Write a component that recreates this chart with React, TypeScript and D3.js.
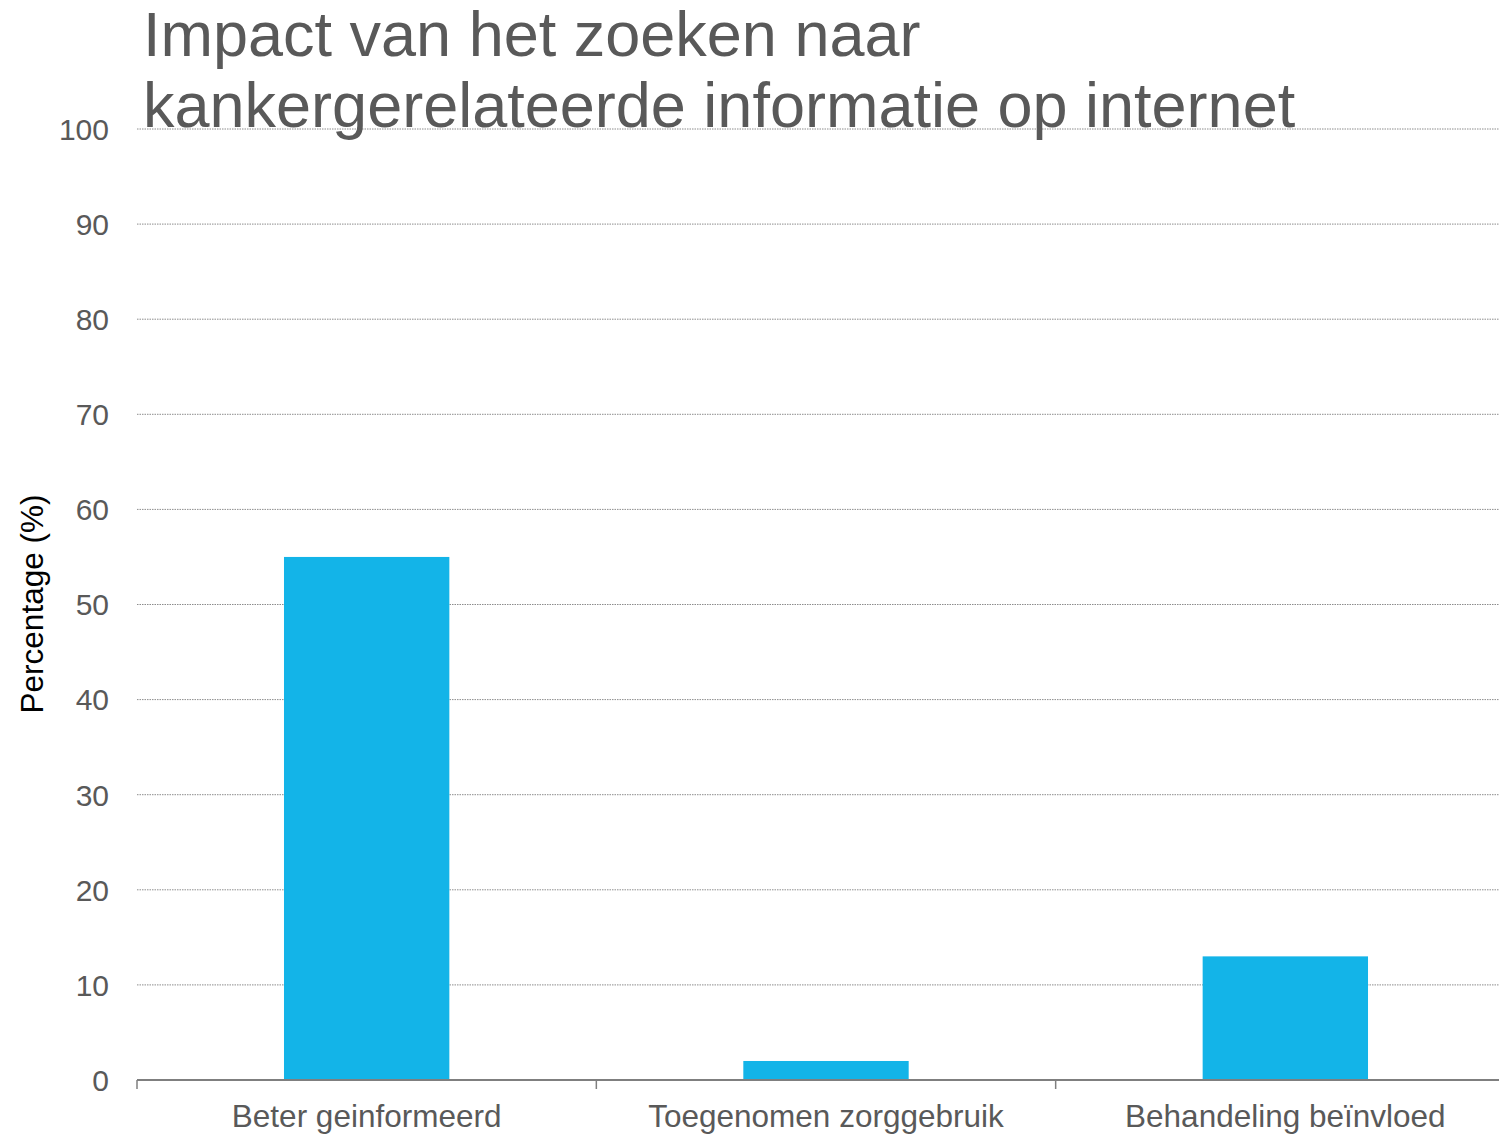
import React from "react";
import * as d3 from "d3";

const categories = ["Beter geinformeerd", "Toegenomen zorggebruik", "Behandeling beïnvloed"];
const values = [55, 2, 13];
const yTicks = [0, 10, 20, 30, 40, 50, 60, 70, 80, 90, 100];
const titleLines = ["Impact van het zoeken naar", "kankergerelateerde informatie op internet"];
const yTitle = "Percentage (%)";

const W = 1499;
const H = 1134;
const left = 137;
const right = 1515;
const top = 129;
const bottom = 1080;
const font = "'Liberation Sans', Arial, sans-serif";

export default function App() {
  const x = d3.scaleBand<string>().domain(categories).range([left, right]).paddingInner(0).paddingOuter(0);
  const y = d3.scaleLinear().domain([0, 100]).range([bottom, top]);
  const bw = x.bandwidth();
  const barW = bw * 0.36;
  const tickXs = [...categories.map((c) => x(c)!), right];

  return (
    <svg
      width={W}
      height={H}
      style={{ position: "absolute", left: 0, top: 0, background: "#fff" }}
      fontFamily={font}
    >
      <rect width={W} height={H} fill="#fff" />
      {yTicks.map((t) =>
        t === 0 ? null : (
          <line key={"g" + t} x1={left} x2={W} y1={y(t)} y2={y(t)} stroke="#8c8c8c" strokeWidth={1} strokeDasharray="1.5,1" />
        )
      )}
      {yTicks.map((t) => (
        <text key={"t" + t} x={109} y={y(t)} dy="0.36em" textAnchor="end" fontSize={30} fill="#595959">
          {t}
        </text>
      ))}
      {categories.map((c, i) => (
        <rect key={c} x={x(c)! + (bw - barW) / 2} y={y(values[i])} width={barW} height={y(0) - y(values[i])} fill="#13b4e8" />
      ))}
      <line x1={left} x2={W} y1={bottom} y2={bottom} stroke="#7f7f7f" strokeWidth={2} />
      {tickXs.map((tx, i) => (
        <line key={"k" + i} x1={tx} x2={tx} y1={bottom} y2={bottom + 9} stroke="#7f7f7f" strokeWidth={1.5} />
      ))}
      {categories.map((c) => (
        <text key={"l" + c} x={x(c)! + bw / 2} y={1127} textAnchor="middle" fontSize={31.5} fill="#595959">
          {c}
        </text>
      ))}
      <text transform={`translate(43,604) rotate(-90)`} textAnchor="middle" fontSize={31.5} fill="#000">
        {yTitle}
      </text>
      {titleLines.map((l, i) => (
        <text key={"ti" + i} x={143} y={56 + i * 71} fontSize={63} fill="#595959">
          {l}
        </text>
      ))}
    </svg>
  );
}
